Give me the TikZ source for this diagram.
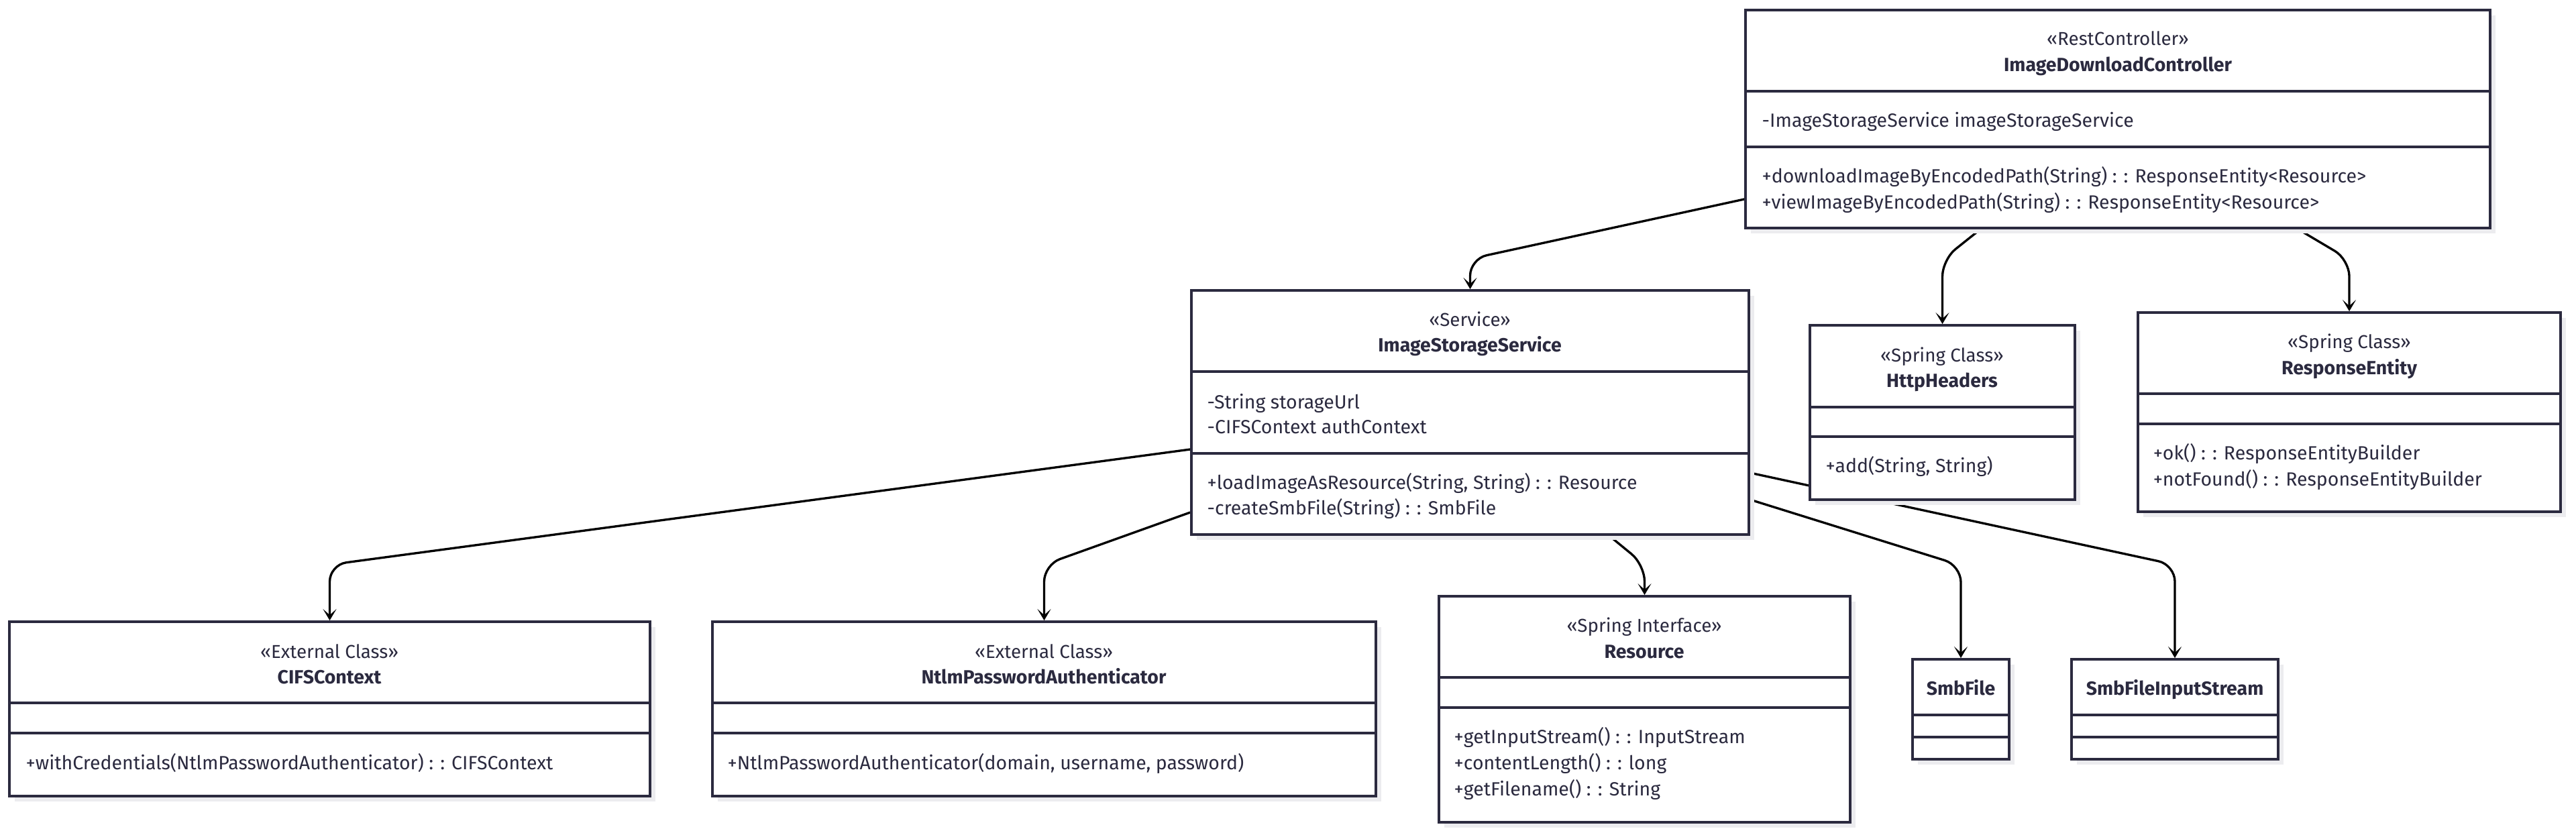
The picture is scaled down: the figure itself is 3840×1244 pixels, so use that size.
\documentclass[tikz,border=0pt]{standalone}
\usepackage{fontspec}
\setmainfont{Fira Sans}
\usetikzlibrary{arrows.meta,fit,shadows}

\definecolor{umlline}{HTML}{2B2A3F}
\definecolor{umlshadow}{HTML}{ECECEF}

\pgfdeclarelayer{edges}
\pgfsetlayers{edges,main}

\begin{document}
\begin{tikzpicture}[
    x=0.01cm, y=-0.01cm,
    classbox/.style={draw=umlline, line width=1.1pt, fill=white, inner sep=0pt,
      drop shadow={shadow xshift=0.08cm, shadow yshift=-0.08cm, fill=umlshadow, opacity=1}},
    divider/.style={draw=umlline, line width=1.1pt},
    stereo/.style={anchor=mid, inner sep=0pt, text=umlline, font=\fontsize{7.9}{9}\selectfont},
    cname/.style={stereo, font=\fontsize{8.1}{9}\selectfont\bfseries},
    member/.style={anchor=mid west, inner sep=0pt, text=umlline, font=\fontsize{8.1}{9}\selectfont},
    dep/.style={-{Stealth[length=0.17cm, width=0.2cm, inset=0.09cm]}, line width=0.95pt, rounded corners=0.25cm}
  ]
    \useasboundingbox (0,0) rectangle (3840,1244);

    % controller
    \node[classbox, fit={(2602,15) (3712,340)}] (idc) {};
    \draw[divider] (idc.west |- 0,136) -- (idc.east |- 0,136);
    \draw[divider] (idc.west |- 0,219) -- (idc.east |- 0,219);
    \node[stereo] (idc-st) at (3157,58) {«RestController»};
    \node[cname] (idc-nm) at (3157,97) {ImageDownloadController};
    \node[member] (idc-a1) at (2626,180) {-ImageStorageService imageStorageService};
    \node[member] (idc-m1) at (2626,263) {+downloadImageByEncodedPath(String) : : ResponseEntity<Resource>};
    \node[member] (idc-m2) at (2626,302) {+viewImageByEncodedPath(String) : : ResponseEntity<Resource>};

    % service
    \node[classbox, fit={(1776,433) (2607,797)}] (iss) {};
    \draw[divider] (iss.west |- 0,554) -- (iss.east |- 0,554);
    \draw[divider] (iss.west |- 0,676) -- (iss.east |- 0,676);
    \node[stereo] (iss-st) at (2191,477) {«Service»};
    \node[cname] (iss-nm) at (2191,515) {ImageStorageService};
    \node[member] (iss-a1) at (1799,600) {-String storageUrl};
    \node[member] (iss-a2) at (1799,637) {-CIFSContext authContext};
    \node[member] (iss-m1) at (1799,720) {+loadImageAsResource(String, String) : : Resource};
    \node[member] (iss-m2) at (1799,758) {-createSmbFile(String) : : SmbFile};

    % spring classes
    \node[classbox, fit={(2698,485) (3093,745)}] (hh) {};
    \draw[divider] (hh.west |- 0,607) -- (hh.east |- 0,607);
    \draw[divider] (hh.west |- 0,651) -- (hh.east |- 0,651);
    \node[stereo] (hh-st) at (2895,530) {«Spring Class»};
    \node[cname] (hh-nm) at (2895,568) {HttpHeaders};
    \node[member] (hh-m1) at (2721,695) {+add(String, String)};

    \node[classbox, fit={(3187,466) (3817,763)}] (re) {};
    \draw[divider] (re.west |- 0,587) -- (re.east |- 0,587);
    \draw[divider] (re.west |- 0,632) -- (re.east |- 0,632);
    \node[stereo] (re-st) at (3502,510) {«Spring Class»};
    \node[cname] (re-nm) at (3502,549) {ResponseEntity};
    \node[member] (re-m1) at (3209,676) {+ok() : : ResponseEntityBuilder};
    \node[member] (re-m2) at (3209,715) {+notFound() : : ResponseEntityBuilder};

    % external classes
    \node[classbox, fit={(14,927) (969,1187)}] (cifs) {};
    \draw[divider] (cifs.west |- 0,1048) -- (cifs.east |- 0,1048);
    \draw[divider] (cifs.west |- 0,1093) -- (cifs.east |- 0,1093);
    \node[stereo] (cifs-st) at (491,972) {«External Class»};
    \node[cname] (cifs-nm) at (491,1010) {CIFSContext};
    \node[member] (cifs-m1) at (38,1138) {+withCredentials(NtlmPasswordAuthenticator) : : CIFSContext};

    \node[classbox, fit={(1062,927) (2051,1187)}] (npa) {};
    \draw[divider] (npa.west |- 0,1048) -- (npa.east |- 0,1048);
    \draw[divider] (npa.west |- 0,1093) -- (npa.east |- 0,1093);
    \node[stereo] (npa-st) at (1556,972) {«External Class»};
    \node[cname] (npa-nm) at (1556,1010) {NtlmPasswordAuthenticator};
    \node[member] (npa-m1) at (1084,1138) {+NtlmPasswordAuthenticator(domain, username, password)};

    % resource
    \node[classbox, fit={(2145,889) (2758,1226)}] (res) {};
    \draw[divider] (res.west |- 0,1010) -- (res.east |- 0,1010);
    \draw[divider] (res.west |- 0,1055) -- (res.east |- 0,1055);
    \node[stereo] (res-st) at (2451,933) {«Spring Interface»};
    \node[cname] (res-nm) at (2451,972) {Resource};
    \node[member] (res-m1) at (2167,1099) {+getInputStream() : : InputStream};
    \node[member] (res-m2) at (2167,1138) {+contentLength() : : long};
    \node[member] (res-m3) at (2167,1177) {+getFilename() : : String};

    % smb
    \node[classbox, fit={(2851,983) (2995,1132)}] (smb) {};
    \draw[divider] (smb.west |- 0,1066) -- (smb.east |- 0,1066);
    \draw[divider] (smb.west |- 0,1099) -- (smb.east |- 0,1099);
    \node[cname] (smb-nm) at (2923,1027) {SmbFile};

    \node[classbox, fit={(3088,983) (3396,1132)}] (sfis) {};
    \draw[divider] (sfis.west |- 0,1066) -- (sfis.east |- 0,1066);
    \draw[divider] (sfis.west |- 0,1099) -- (sfis.east |- 0,1099);
    \node[cname] (sfis-nm) at (3242,1027) {SmbFileInputStream};

    % dependencies
    \begin{pgfonlayer}{edges}
    \draw[dep] (idc.west |- 0,297) -- (iss.north |- 0,386) -- (iss.north);
    \draw[dep] (idc.south -| 2952,0) -- (hh.north |- 0,387) -- (hh.north);
    \draw[dep] (idc.south -| 3426,0) -- (re.north |- 0,387) -- (re.north);
    \draw[dep] (iss.west |- 0,670) -- (cifs.north |- 0,842) -- (cifs.north);
    \draw[dep] (iss.west |- 0,764) -- (npa.north |- 0,842) -- (npa.north);
    \draw[dep] (iss.south -| 2399,0) -- (res.north |- 0,842) -- (res.north);
    \draw[dep] (iss.east |- 0,745) -- (smb.north |- 0,843) -- (smb.north);
    \draw[dep] (iss.east |- 0,705) -- (sfis.north |- 0,842) -- (sfis.north);
    \end{pgfonlayer}
  \end{tikzpicture}
\end{document}
